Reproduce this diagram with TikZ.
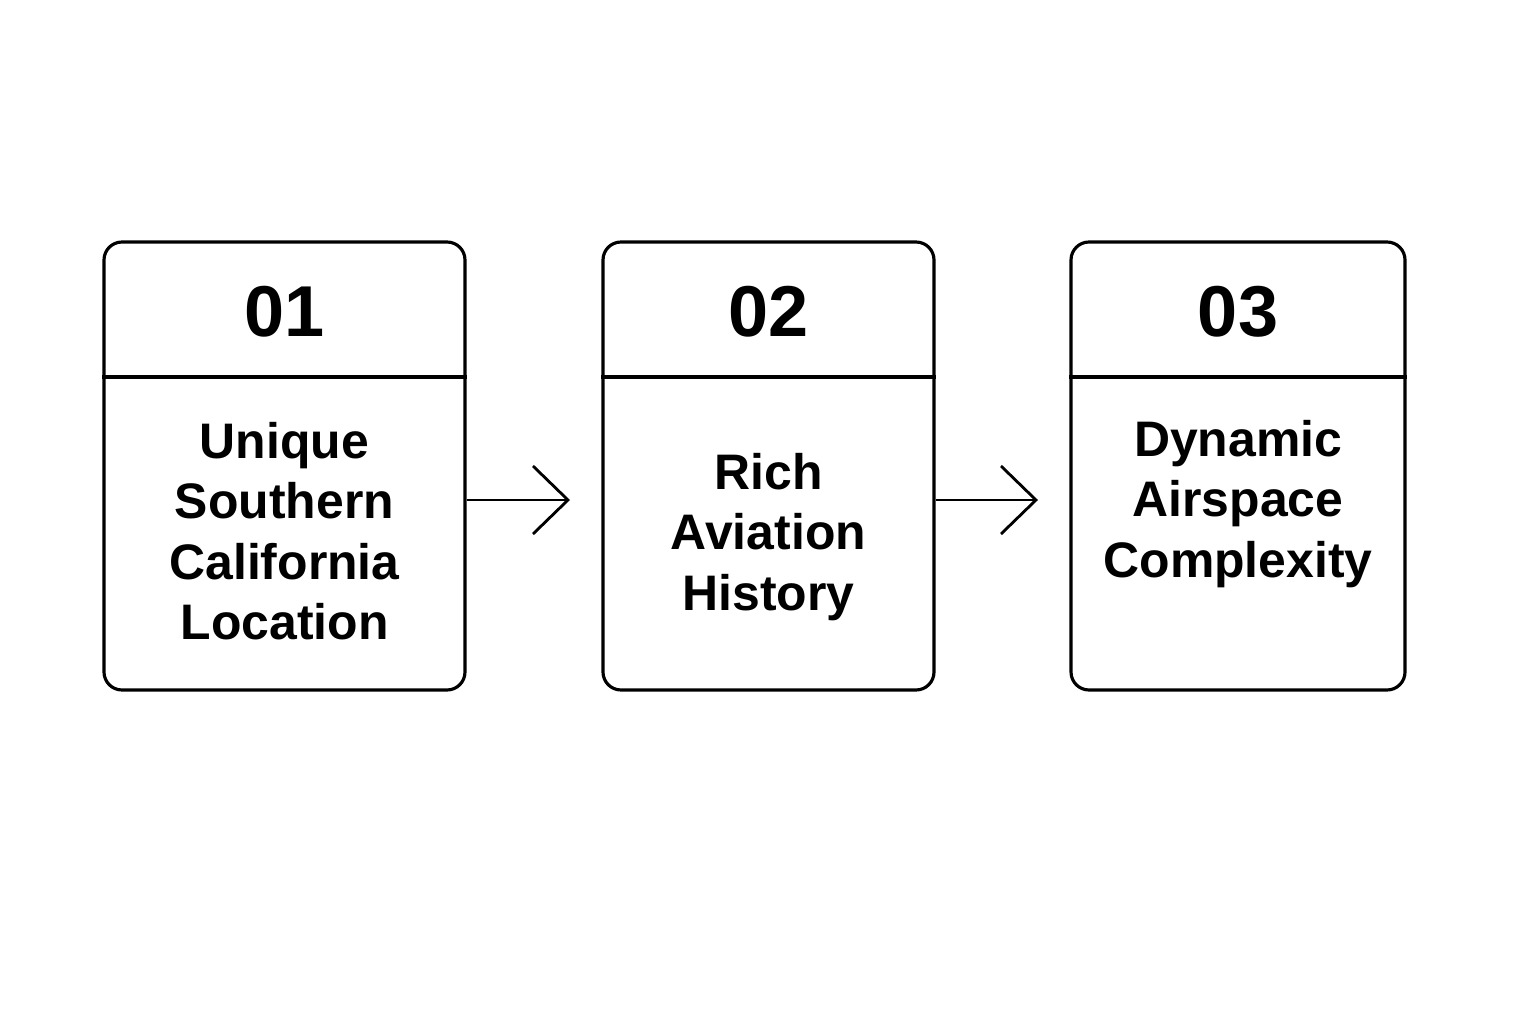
\documentclass[tikz,border=0pt]{standalone}
\usepackage{fontspec}
\setmainfont{Liberation Sans}
\usetikzlibrary{positioning,arrows.meta}

\begin{document}
\begin{tikzpicture}[
  card/.style={draw, line width=0.9pt, rounded corners=0.18cm, minimum height=4.48cm, minimum width=#1},
  num/.style={font=\fontsize{20.5}{24}\selectfont\bfseries},
  txt/.style={font=\fontsize{14.2}{17.2}\selectfont\bfseries, align=center},
  flow/.style={line width=0.8pt, -{Straight Barb[length=0.35cm, width=0.68cm, line width=0.8pt]}}
]
\useasboundingbox (0,0) rectangle (15.36,10.24);

\node[card=3.61cm] (c1) at (2.845,5.58) {};
\node[card=3.31cm] (c2) at (7.685,5.58) {};
\node[card=3.34cm] (c3) at (12.38,5.58) {};

\draw[line width=0.9pt] (c1.west |- 0,6.47) -- (c1.east |- 0,6.47);
\draw[line width=0.9pt] (c2.west |- 0,6.47) -- (c2.east |- 0,6.47);
\draw[line width=0.9pt] (c3.west |- 0,6.47) -- (c3.east |- 0,6.47);

\node[num] (n1) at (2.845,7.12) {01};
\node[num] (n2) at (7.685,7.12) {02};
\node[num] (n3) at (12.38,7.12) {03};

\node[txt] (t1) at (2.845,4.93) {Unique\\Southern\\California\\Location};
\node[txt] (t2) at (7.685,4.87) {Rich\\Aviation\\History};
\node[txt] (t3) at (12.38,5.20) {Dynamic\\Airspace\\Complexity};

\coordinate (a1) at (5.70,5.24);
\coordinate (a2) at (10.38,5.24);
\draw[flow] (c1.east |- a1) -- (a1);
\draw[flow] (c2.east |- a2) -- (a2);
\end{tikzpicture}
\end{document}
